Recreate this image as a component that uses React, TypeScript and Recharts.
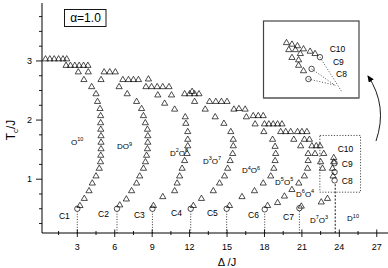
import React from 'react';
import { ReferenceArea, ReferenceDot, ReferenceLine, Scatter, ScatterChart, XAxis, YAxis } from 'recharts';

type Pair = [number, number];

// Tc/J against Delta/J
const branch1: Pair[] = [
  [3.21, 0.56], [3.56, 0.68], [3.94, 0.81], [4.2, 0.94], [4.5, 1.06], [4.76, 1.19], [4.86, 1.3],
  [4.88, 1.41], [4.9, 1.52], [4.9, 1.63], [4.9, 1.74], [4.88, 1.85], [4.87, 1.96], [4.87, 2.08],
  [4.82, 2.2], [4.62, 2.32], [4.5, 2.45], [4.15, 2.57], [3.53, 2.69], [3.08, 2.82]
];
const branch2: Pair[] = [
  [6.4, 0.57], [6.93, 0.67], [7.35, 0.81], [7.75, 0.94], [8.0, 1.06], [8.3, 1.19], [8.46, 1.3],
  [8.55, 1.41], [8.62, 1.52], [8.65, 1.63], [8.65, 1.74], [8.62, 1.85], [8.45, 1.96], [8.3, 2.08],
  [8.15, 2.2], [7.75, 2.32], [7.0, 2.45], [6.35, 2.57], [4.9, 2.69]
];
const branch3: Pair[] = [
  [9.1, 0.56], [9.85, 0.71], [10.8, 0.81], [11.0, 0.94], [11.2, 1.06], [11.4, 1.19], [11.6, 1.32],
  [11.8, 1.44], [11.85, 1.57], [11.85, 1.68], [11.85, 1.81], [11.7, 1.95], [11.65, 2.06],
  [10.8, 2.19], [10.0, 2.29], [9.45, 2.43]
];
const branch4: Pair[] = [
  [12.3, 0.56], [12.95, 0.68], [13.9, 0.81], [14.4, 0.94], [14.8, 1.06], [15.05, 1.19], [15.25, 1.32],
  [15.45, 1.44], [15.5, 1.57], [15.5, 1.68], [15.3, 1.81], [14.75, 1.95], [14.05, 2.06],
  [13.25, 2.19], [12.4, 2.32]
];
const branch5: Pair[] = [
  [15.2, 0.56], [16.2, 0.71], [17.2, 0.81], [17.9, 0.94], [18.5, 1.06], [18.75, 1.19], [18.85, 1.32],
  [18.9, 1.44], [18.85, 1.56], [18.65, 1.68], [17.95, 1.81], [17.25, 1.94], [16.55, 2.06]
];
const branch6: Pair[] = [
  [18.25, 0.56], [19.05, 0.61], [19.6, 0.72], [20.2, 0.83], [20.75, 0.94], [21.2, 1.06],
  [21.45, 1.19], [21.5, 1.32], [21.5, 1.44], [20.9, 1.57], [20.35, 1.68]
];
const branch7: Pair[] = [
  [20.95, 0.55], [22.55, 0.62], [23.05, 0.68], [23.5, 1.06], [23.45, 1.19], [23.55, 1.3],
  [23.55, 1.37], [22.5, 1.3], [22.65, 1.19], [22.05, 1.44], [22.75, 1.44]
];
const plateaus: Pair[] = [
  [0.45, 3.04], [0.8, 3.04], [1.15, 3.04], [1.5, 3.04], [1.85, 3.04], [2.15, 3.04],
  [2.1, 2.93], [2.45, 2.93], [2.8, 2.93], [3.15, 2.93], [3.5, 2.93], [3.85, 2.93],
  [3.88, 2.82], [5.15, 2.82], [5.6, 2.82], [6.05, 2.82],
  [6.65, 2.69], [7.1, 2.69], [7.5, 2.69], [7.9, 2.69], [8.7, 2.7],
  [8.5, 2.57], [8.95, 2.57], [9.4, 2.57], [9.85, 2.57], [10.35, 2.57],
  [10.55, 2.43], [11.6, 2.45], [12.0, 2.45], [12.2, 2.49], [12.4, 2.45], [12.75, 2.45],
  [13.6, 2.32], [14.1, 2.32], [14.55, 2.32], [15.0, 2.32],
  [15.55, 2.19], [15.95, 2.2], [16.45, 2.19],
  [17.1, 2.08], [17.5, 2.08], [17.9, 2.08],
  [18.0, 1.94], [18.35, 1.94], [18.7, 1.94], [19.05, 1.94], [19.4, 1.94],
  [19.3, 1.81], [19.7, 1.81], [20.1, 1.81], [20.65, 1.81], [21.0, 1.81], [21.4, 1.81],
  [21.2, 1.68], [21.6, 1.68],
  [21.8, 1.57], [22.15, 1.57], [22.45, 1.57]
];
const criticalPoints: Pair[] = [
  [3.0, 0.5], [6.18, 0.5], [9.02, 0.5], [12.09, 0.5], [14.97, 0.5], [18.02, 0.49], [20.8, 0.51]
];
const boxCircles: Pair[] = [[23.62, 0.98], [23.62, 1.12], [23.62, 1.27]];

// inset (magnified dotted box)
const insetTriangles: Pair[] = [
  [23.22, 1.48], [23.41, 1.46], [23.6, 1.44], [23.81, 1.4], [24.04, 1.37], [24.21, 1.34],
  [23.3, 1.39], [23.53, 1.39], [23.7, 1.34], [23.41, 1.29], [23.64, 1.26], [23.64, 1.19], [23.81, 1.12]
];
const insetCircles: Pair[] = [[24.38, 1.29], [24.09, 1.14], [23.98, 1.01]];
const insetEnds: Pair[] = [[25.15, 0.84], [24.94, 0.92], [24.92, 0.93]];

const xMajor = [3, 6, 9, 12, 15, 18, 21, 24, 27];
const xMinor = [1.5, 4.5, 7.5, 10.5, 13.5, 16.5, 19.5, 22.5, 25.5];
const yMajor = [1, 2, 3];
const yMinor = [0.25, 0.5, 0.75, 1.25, 1.5, 1.75, 2.25, 2.5, 2.75, 3.25, 3.5, 3.75];

const xDomain: [number, number] = [0.17, 27.9];
const yDomain: [number, number] = [0.09, 3.98];
const zoomBox = { x1: 22.44, x2: 25.7, y1: 0.78, y2: 1.74 };

type Part = [string, string];
const phaseLabels: { x: number; y: number; parts: Part[] }[] = [
  { x: 2.5, y: 1.63, parts: [['O', '10']] },
  { x: 6.18, y: 1.56, parts: [['DO', '9']] },
  { x: 10.43, y: 1.45, parts: [['D', '2'], ['O', '8']] },
  { x: 13.07, y: 1.31, parts: [['D', '3'], ['O', '7']] },
  { x: 16.2, y: 1.15, parts: [['D', '4'], ['O', '6']] },
  { x: 18.85, y: 0.96, parts: [['D', '5'], ['O', '5']] },
  { x: 20.53, y: 0.75, parts: [['D', '6'], ['O', '4']] },
  { x: 21.65, y: 0.31, parts: [['D', '7'], ['O', '3']] },
  { x: 24.62, y: 0.34, parts: [['D', '10']] }
];
const cLabels: { x: number; y: number; text: string }[] = [
  { x: 1.53, y: 0.38, text: 'C1' }, { x: 4.66, y: 0.41, text: 'C2' }, { x: 7.54, y: 0.39, text: 'C3' },
  { x: 10.51, y: 0.435, text: 'C4' }, { x: 13.39, y: 0.425, text: 'C5' }, { x: 16.68, y: 0.4, text: 'C6' },
  { x: 19.49, y: 0.36, text: 'C7' }, { x: 23.87, y: 1.51, text: 'C10' }, { x: 24.2, y: 1.25, text: 'C9' },
  { x: 24.2, y: 0.97, text: 'C8' }
];
const insetLabels: { x: number; y: number; text: string }[] = [
  { x: 24.72, y: 1.4, text: 'C10' }, { x: 24.83, y: 1.23, text: 'C9' }, { x: 24.94, y: 1.07, text: 'C8' }
];

const FONT = 'Liberation Sans, Arial, sans-serif';
const pts = (a: Pair[]) => a.map(([x, y]) => ({ x, y }));

const Tri = (p: any) => {
  const { cx, cy } = p;
  if (cx == null || cy == null) return <g />;
  return (
    <path d={`M${cx},${cy - 3}L${cx + 3.1},${cy + 2.3}L${cx - 3.1},${cy + 2.3}Z`}
      fill="none" stroke="#000" strokeWidth={0.7} />
  );
};
const Ring = (p: any) => {
  const { cx, cy } = p;
  if (cx == null || cy == null) return <g />;
  return <circle cx={cx} cy={cy} r={2.7} fill="none" stroke="#000" strokeWidth={0.7} />;
};

const XTick = (props: any) => {
  const { x, y, payload } = props;
  const major = xMajor.includes(payload.value);
  return (
    <g>
      <line x1={x} x2={x} y1={y - (major ? 3.5 : 2)} y2={y + (major ? 4 : 2)} stroke="#000" strokeWidth={0.9} />
      {major && (
        <text x={x} y={y + 17} textAnchor="middle" fontSize={9} fontFamily={FONT} fill="#000">
          {payload.value}
        </text>
      )}
    </g>
  );
};
const YTick = (props: any) => {
  const { x, y, payload } = props;
  const major = yMajor.includes(payload.value);
  return (
    <g>
      <line x1={x - (major ? 6 : 3)} x2={x} y1={y} y2={y} stroke="#000" strokeWidth={0.9} />
      {major && (
        <text x={x - 10} y={y + 3.2} textAnchor="end" fontSize={9} fontFamily={FONT} fill="#000">
          {payload.value}
        </text>
      )}
    </g>
  );
};

const Chem = ({ cx, cy, parts }: { cx: number; cy: number; parts: Part[] }) => (
  <text x={cx} y={cy + 3} fontSize={8} fontFamily={FONT} fill="#000" stroke="none">
    {parts.map(([base, sup], i) => (
      <React.Fragment key={i}>
        <tspan dy={i > 0 ? 3.5 : 0}>{base}</tspan>
        <tspan dy={-3.5} fontSize={5.5}>{sup}</tspan>
      </React.Fragment>
    ))}
  </text>
);
const Plain = ({ cx, cy, text, size }: { cx: number; cy: number; text: string; size: number }) => (
  <text x={cx} y={cy + 3} fontSize={size} fontFamily={FONT} fill="#000" stroke="none">{text}</text>
);

const series = [branch1, branch2, branch3, branch4, branch5, branch6, branch7, plateaus];

export default function App(): JSX.Element {
  return (
    <div style={{ position: 'absolute', left: 0, top: 0, width: 388, height: 268, background: '#fff' }}>
      <ScatterChart width={388} height={268} margin={{ top: 3, right: 0, bottom: 0, left: 0 }}>
        <XAxis type="number" dataKey="x" domain={xDomain} allowDataOverflow height={35}
          ticks={[...xMinor, ...xMajor].sort((a, b) => a - b)} interval={0}
          tickSize={0} tickMargin={0} tickLine={false} tick={<XTick />}
          axisLine={{ stroke: '#000', strokeWidth: 1 }} />
        <YAxis type="number" dataKey="y" domain={yDomain} allowDataOverflow width={42}
          ticks={[...yMinor, ...yMajor].sort((a, b) => a - b)} interval={0}
          tickSize={0} tickMargin={0} tickLine={false} tick={<YTick />}
          axisLine={{ stroke: '#000', strokeWidth: 1 }} />
        {criticalPoints.map(([x, y], i) => (
          <ReferenceLine key={`v${i}`} segment={[{ x, y: yDomain[0] }, { x, y: y - 0.05 }]}
            stroke="#000" strokeWidth={0.8} strokeDasharray="1 1.6" />
        ))}
        <ReferenceLine segment={[{ x: boxCircles[0][0] + 0.05, y: yDomain[0] }, { x: boxCircles[0][0] + 0.05, y: boxCircles[0][1] - 0.05 }]}
          stroke="#000" strokeWidth={0.9} strokeDasharray="2 1.6" />
        <ReferenceArea x1={zoomBox.x1} x2={zoomBox.x2} y1={zoomBox.y1} y2={zoomBox.y2}
          fill="none" stroke="#222" strokeWidth={0.8} strokeDasharray="1.2 1.6" />
        {series.map((s, i) => (
          <Scatter key={`s${i}`} data={pts(s)} shape={Tri} isAnimationActive={false} />
        ))}
        <Scatter data={pts(criticalPoints)} shape={Ring} isAnimationActive={false} />
        <Scatter data={pts(boxCircles)} shape={Ring} isAnimationActive={false} />
        {phaseLabels.map((l, i) => (
          <ReferenceDot key={`p${i}`} x={l.x} y={l.y} r={0}
            shape={(p: any) => <Chem cx={p.cx} cy={p.cy} parts={l.parts} />} />
        ))}
        {cLabels.map((l, i) => (
          <ReferenceDot key={`c${i}`} x={l.x} y={l.y} r={0}
            shape={(p: any) => <Plain cx={p.cx} cy={p.cy} text={l.text} size={8.5} />} />
        ))}
      </ScatterChart>

      <div style={{ position: 'absolute', left: 264, top: 22, width: 94, height: 75 }}>
        <ScatterChart width={94} height={75} margin={{ top: 0, right: 0, bottom: 0, left: 0 }}>
          <XAxis type="number" dataKey="x" domain={[zoomBox.x1, zoomBox.x2]} allowDataOverflow hide />
          <YAxis type="number" dataKey="y" domain={[zoomBox.y1, zoomBox.y2]} allowDataOverflow hide />
          {insetCircles.map(([x, y], i) => (
            <ReferenceLine key={`il${i}`} segment={[{ x, y }, { x: insetEnds[i][0], y: insetEnds[i][1] }]}
              stroke="#000" strokeWidth={0.7} strokeDasharray="1 1.8" />
          ))}
          <Scatter data={pts(insetTriangles)} shape={Tri} isAnimationActive={false} />
          <Scatter data={pts(insetCircles)} shape={Ring} isAnimationActive={false} />
          {insetLabels.map((l, i) => (
            <ReferenceDot key={`ic${i}`} x={l.x} y={l.y} r={0}
              shape={(p: any) => <Plain cx={p.cx} cy={p.cy} text={l.text} size={8.5} />} />
          ))}
        </ScatterChart>
      </div>

      <svg width={388} height={268} style={{ position: 'absolute', left: 0, top: 0, pointerEvents: 'none' }}>
        <defs>
          <marker id="ah" markerWidth={7} markerHeight={6} refX={6} refY={3} orient="auto" markerUnits="userSpaceOnUse">
            <path d="M0,0 L7,3 L0,6 z" fill="#000" />
          </marker>
        </defs>
        <rect x={263.5} y={21} width={95.5} height={77} fill="none" stroke="#444" strokeWidth={1.2} />
        <line x1={263.5} x2={359} y1={98} y2={98} stroke="#777" strokeWidth={1.6} />
        <path d="M376,141 Q388,106 368,76" fill="none" stroke="#000" strokeWidth={0.9} markerEnd="url(#ah)" />
        <rect x={64.5} y={9.5} width={41.5} height={17} fill="none" stroke="#000" strokeWidth={0.9} />
        <text x={85.5} y={22.2} textAnchor="middle" fontSize={12} fontFamily={FONT}>α=1.0</text>
        <text x={227} y={266} textAnchor="middle" fontSize={11} fontFamily={FONT}>Δ /J</text>
        <text transform="translate(15,130) rotate(-90)" textAnchor="middle" fontSize={12} fontFamily={FONT}>
          T<tspan fontSize={8} dy={2.5}>c</tspan><tspan dy={-2.5}>/J</tspan>
        </text>
      </svg>
    </div>
  );
}
